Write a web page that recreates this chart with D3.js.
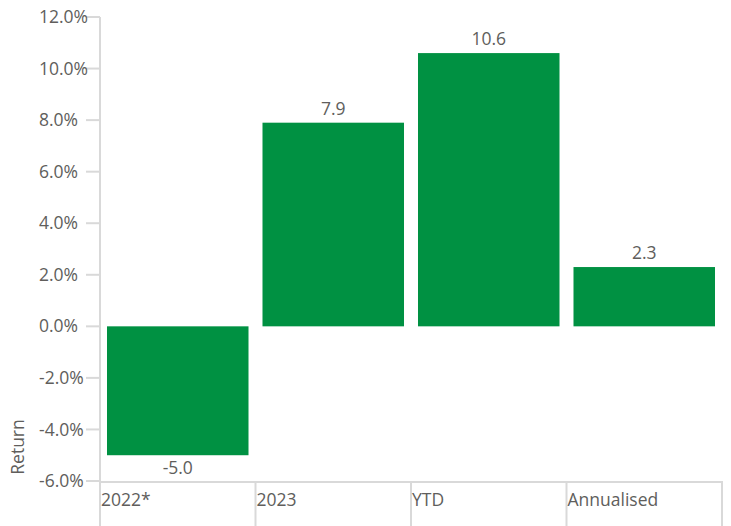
<!DOCTYPE html>
<html><head><meta charset="utf-8">
<script src="https://cdn.jsdelivr.net/npm/d3@7"></script>
<style>body{margin:0;background:#fff}text{font-family:"Segoe UI","Open Sans",sans-serif}</style>
</head><body>
<svg id="c" width="731" height="526"></svg>
<script>
const categories = ["2022*", "2023", "YTD", "Annualised"];
const values = [-5.0, 7.9, 10.6, 2.3];
const yTicks = [-6, -4, -2, 0, 2, 4, 6, 8, 10, 12];

(function () {
const svg = d3.select("#c");
const mLeft = 100, mRight = 722, mTop = 17, mBottom = 481;
const axisColor = "#d9d9d9", textColor = "#605e5c";
const fs = 17.5;
const x = d3.scaleBand().domain(categories).range([mLeft, mRight]).paddingInner(0.09).paddingOuter(0.045);
const y = d3.scaleLinear().domain([-6, 12]).range([mBottom, mTop]);

// y axis
const gy = svg.append("g");
gy.append("line").attr("x1", mLeft).attr("x2", mLeft).attr("y1", mTop).attr("y2", mBottom)
  .attr("stroke", axisColor).attr("stroke-width", 2);
yTicks.forEach(t => {
  gy.append("line").attr("x1", mLeft - 14).attr("x2", mLeft).attr("y1", y(t)).attr("y2", y(t))
    .attr("stroke", axisColor).attr("stroke-width", 2);
  gy.append("text").attr("x", 39).attr("y", y(t)).attr("dy", "0.35em")
    .attr("font-size", fs).attr("fill", textColor).text(t.toFixed(1) + "%");
});
svg.append("text").attr("transform", `translate(24,447) rotate(-90)`)
  .attr("text-anchor", "middle").attr("font-size", fs).attr("fill", textColor).text("Return");

// x axis
const gx = svg.append("g");
gx.append("line").attr("x1", mLeft).attr("x2", mRight).attr("y1", mBottom + 1).attr("y2", mBottom + 1)
  .attr("stroke", axisColor).attr("stroke-width", 2);
const edges = categories.map(c => x(c) - x.step() * x.paddingInner() / 2);
edges[0] = mLeft;
edges.push(mRight);
edges.forEach(e => {
  gx.append("line").attr("x1", e).attr("x2", e).attr("y1", mBottom).attr("y2", 526)
    .attr("stroke", axisColor).attr("stroke-width", 2);
});
categories.forEach((c, i) => {
  gx.append("text").attr("x", edges[i] + 1).attr("y", 500).attr("dy", "0.35em")
    .attr("font-size", fs).attr("fill", textColor).text(c);
});

// bars
svg.selectAll("rect.bar").data(values).join("rect").attr("class", "bar")
  .attr("x", (d, i) => x(categories[i])).attr("width", x.bandwidth())
  .attr("y", d => y(Math.max(0, d))).attr("height", d => Math.abs(y(d) - y(0)))
  .attr("fill", "#009142");

svg.selectAll("text.lbl").data(values).join("text").attr("class", "lbl")
  .attr("x", (d, i) => x(categories[i]) + x.bandwidth() / 2)
  .attr("y", d => d >= 0 ? y(d) - 14 : y(d) + 13).attr("dy", "0.35em")
  .attr("text-anchor", "middle").attr("font-size", fs).attr("fill", textColor)
  .text(d => d.toFixed(1));
})();
</script>
</body></html>
